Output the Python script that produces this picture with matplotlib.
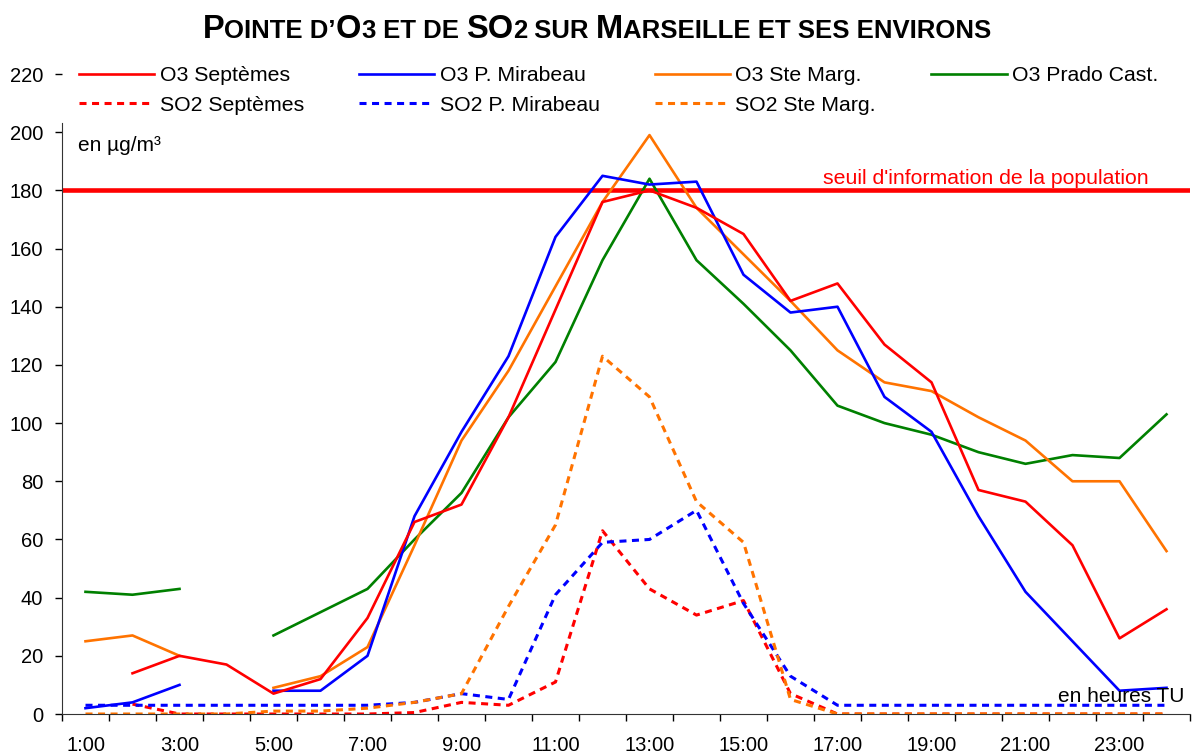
import numpy as np
import matplotlib.pyplot as plt
from matplotlib.transforms import blended_transform_factory

nan = np.nan

# Données (µg/m3, heures TU)
heures = ['1:00', '2:00', '3:00', '4:00', '5:00', '6:00', '7:00', '8:00',
          '9:00', '10:00', '11:00', '12:00', '13:00', '14:00', '15:00', '16:00',
          '17:00', '18:00', '19:00', '20:00', '21:00', '22:00', '23:00', '24:00']

o3_septemes = [nan, 14, 20, 17, 7, 12, 33, 66, 72, 102, 139, 176,
               180, 174, 165, 142, 148, 127, 114, 77, 73, 58, 26, 36]
o3_mirabeau = [2, 4, 10, nan, 8, 8, 20, 68, 97, 123, 164, 185,
               182, 183, 151, 138, 140, 109, 97, 68, 42, 25, 8, 9]
o3_stemarg = [25, 27, 20, nan, 9, 13, 23, 58, 94, 118, 147, 176,
              199, 174, 158, 142, 125, 114, 111, 102, 94, 80, 80, 56]
o3_prado = [42, 41, 43, nan, 27, 35, 43, 60, 76, 102, 121, 156,
            184, 156, 141, 125, 106, 100, 96, 90, 86, 89, 88, 103]

so2_septemes = [nan, 3.4, 0, 0, 0, 0, 0, 0.5, 4, 3, 11, 63,
                43, 34, 39, 7, 0, 0, 0, 0, 0, 0, 0, 0]
so2_mirabeau = [3, 3, 3, 3, 3, 3, 3, 4, 7, 5, 41, 59,
                60, 70, 38, 13, 3, 3, 3, 3, 3, 3, 3, 3]
so2_stemarg = [0, 0, 0, 0, 1, 1, 2, 4, 7, 37, 65, 123,
               109, 73, 59, 5, 0, 0, 0, 0, 0, 0, 0, 0]

seuil = 180

rouge = '#FF0000'
bleu = '#0000FF'
orange = '#FF7300'
vert = '#008000'

plt.rcParams['font.family'] = ['Liberation Sans', 'DejaVu Sans']

W, H = 1192, 756
fig = plt.figure(figsize=(W / 100, H / 100), dpi=100)
ax = fig.add_axes([62 / W, 1 - 714 / H, 1128 / W, 640 / H])

x = np.arange(len(heures))
pointille = dict(lw=2.2, dashes=(2.3, 1.8))

l_so2_s, = ax.plot(x, so2_septemes, color=rouge, label='SO2 Septèmes', **pointille)
l_so2_m, = ax.plot(x, so2_mirabeau, color=bleu, label='SO2 P. Mirabeau', **pointille)
l_so2_sm, = ax.plot(x, so2_stemarg, color=orange, label='SO2 Ste Marg.', **pointille)

l_o3_p, = ax.plot(x, o3_prado, color=vert, lw=1.9, label='O3 Prado Cast.')
l_o3_sm, = ax.plot(x, o3_stemarg, color=orange, lw=1.9, label='O3 Ste Marg.')
l_o3_m, = ax.plot(x, o3_mirabeau, color=bleu, lw=1.9, label='O3 P. Mirabeau')
l_o3_s, = ax.plot(x, o3_septemes, color=rouge, lw=1.9, label='O3 Septèmes')

ax.axhline(seuil, color=rouge, lw=3.3, zorder=1)

# Axes
ax.set_xlim(-0.5, len(heures) - 0.5)
ax.set_ylim(0, 220)
ax.set_yticks(np.arange(0, 221, 20))
ax.set_xticks(x[::2])
ax.set_xticklabels(heures[::2])
ax.set_xticks(np.arange(-0.5, len(heures), 1), minor=True)
ax.tick_params(axis='x', which='major', length=0, pad=16, labelsize=14.5)
ax.tick_params(axis='x', which='minor', length=5, direction='out', width=1)
ax.tick_params(axis='y', length=5, width=1, pad=8.5, labelsize=14.5)
for s in ['top', 'right']:
    ax.spines[s].set_visible(False)
ax.spines['left'].set_bounds(0, 203)
ax.spines['left'].set_color('#333333')
ax.spines['bottom'].set_color('#333333')

# Textes
tr = blended_transform_factory(ax.transAxes, ax.transData)
ax.text(0.9637, 182.1, "seuil d'information de la population", color=rouge,
        fontsize=15.3, ha='right', va='baseline', transform=tr)
ax.text(16 / 1128, 193.6, 'en µg/m³', fontsize=15, ha='left', va='baseline', transform=tr)
ax.text(0.9947, 4.2, 'en heures TU', fontsize=15, ha='right', va='baseline', transform=tr)

# Légende
poignees = [l_o3_s, l_so2_s, l_o3_m, l_so2_m, l_o3_sm, l_so2_sm, l_o3_p]
leg = ax.legend(handles=poignees, ncol=4, loc='upper left',
                bbox_to_anchor=(79 / W, 1 - 66 / H), bbox_transform=fig.transFigure,
                fontsize=15.3, handlelength=3.55, handletextpad=0.24, columnspacing=2.6,
                labelspacing=0.5, borderpad=0, borderaxespad=0, frameon=True,
                fancybox=False, framealpha=1, facecolor='white', edgecolor='none')

# Titre en petites capitales
morceaux = [('P', 23.5), ('OINTE D\u2019', 18.5), ('O', 23.5), ('3', 18.5), (' ET DE ', 18.5),
            ('SO', 23.5), ('2', 18.5), (' SUR ', 18.5), ('M', 23.5),
            ('ARSEILLE ET SES ENVIRONS', 18.5)]
famille_titre = ['Liberation Sans Narrow', 'Liberation Sans', 'DejaVu Sans']
renderer = fig.canvas.get_renderer()
textes = []
for txt, taille in morceaux:
    t = fig.text(0, 1 - 38 / H, txt, fontsize=taille, fontweight='bold',
                 family=famille_titre, va='baseline', ha='left')
    textes.append(t)
largeurs = [t.get_window_extent(renderer).width for t in textes]
x0 = 597 - sum(largeurs) / 2
for t, w in zip(textes, largeurs):
    t.set_x(x0 / W)
    x0 += w

fig.savefig('out.png', dpi=100)
